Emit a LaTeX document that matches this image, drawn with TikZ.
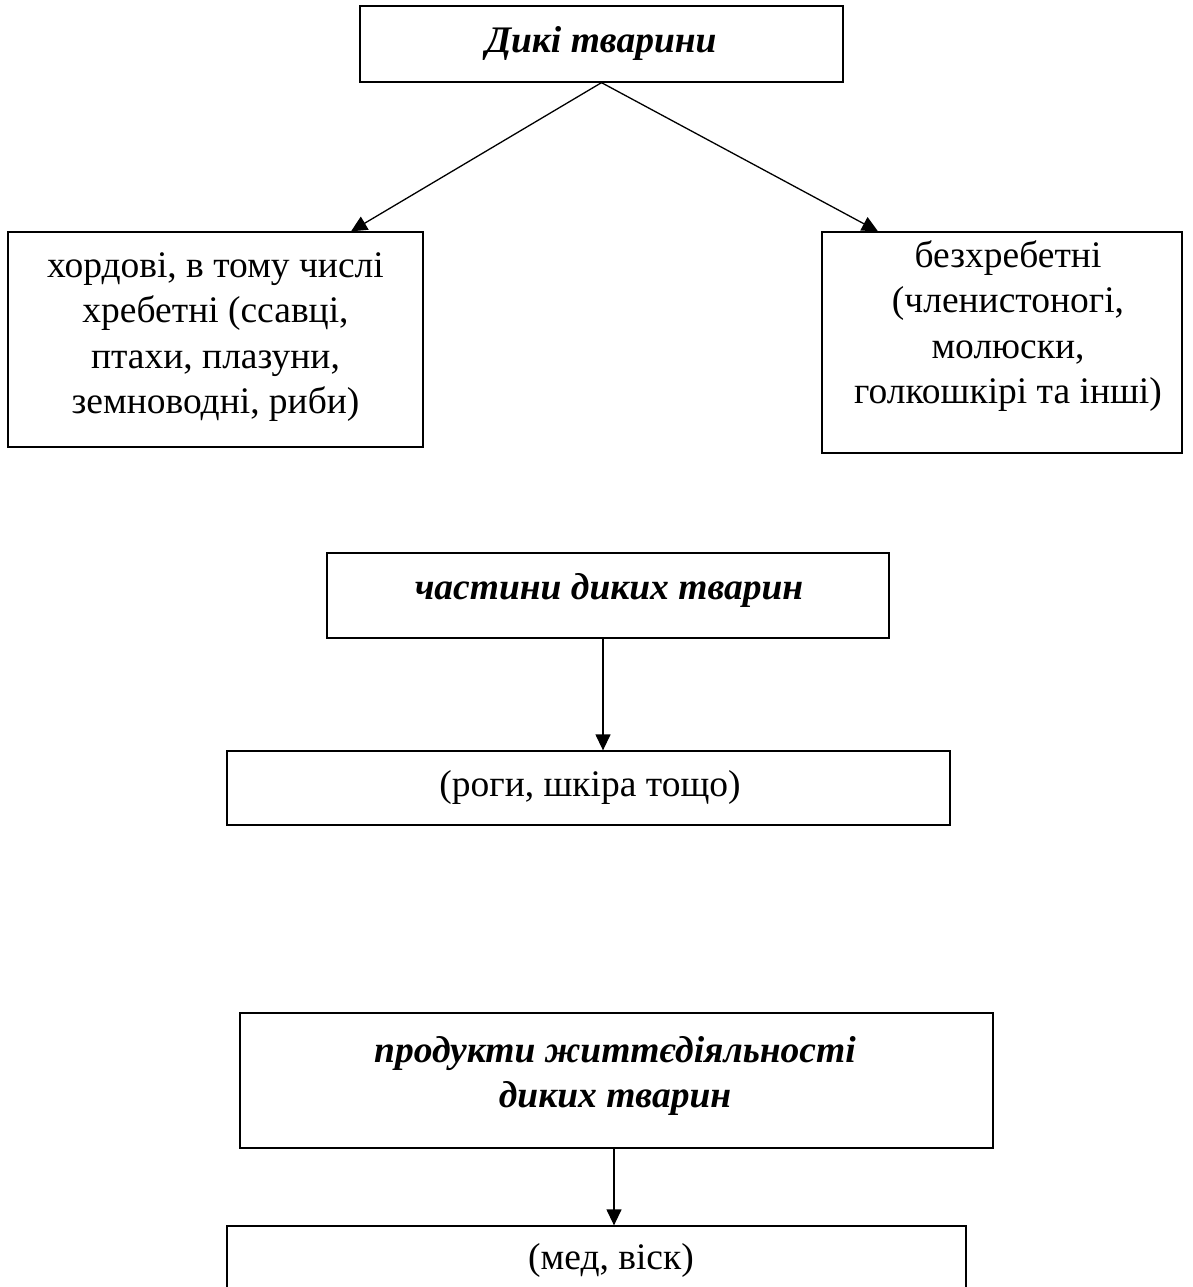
\documentclass[tikz,border=0pt]{standalone}
\usepackage{fontspec}
\setmainfont{Liberation Serif}
\usetikzlibrary{arrows.meta}
\begin{document}
\begin{tikzpicture}[x=1pt,y=-1pt,
  box/.style={draw,line width=1.3pt,inner sep=0pt,rectangle},
  txt/.style={inner sep=0pt,align=center,font=\fontsize{37.5}{45.6}\selectfont},
  ttl/.style={txt,font=\fontsize{37.5}{45.6}\selectfont\bfseries\itshape},
  arr/.style={line width=1.3pt,-{Triangle[length=16pt,width=15pt]}}]
\clip (0,0) rectangle (1192,1287);
\fill[white] (0,0) rectangle (1192,1287);
% boxes
\node[box,minimum width=483pt,minimum height=76pt] (b1) at (601.5,44) {};
\node[box,minimum width=415pt,minimum height=215pt] (b2) at (215.5,339.5) {};
\node[box,minimum width=360pt,minimum height=221pt] (b3) at (1002,342.5) {};
\node[box,minimum width=562pt,minimum height=85pt] (b4) at (608,595.5) {};
\node[box,minimum width=723pt,minimum height=74pt] (b5) at (588.5,788) {};
\node[box,minimum width=753pt,minimum height=135pt] (b6) at (616.5,1080.5) {};
\node[box,minimum width=739pt,minimum height=80pt] (b7) at (596.5,1266) {};
% texts
\node[ttl] (t1) at (601,43) {Дикі тварини};
\node[txt] (t2) at (215.5,337) {хордові, в тому числі\\хребетні (ссавці,\\птахи, плазуни,\\земноводні, риби)};
\node[txt] (t3) at (1008,326) {безхребетні\\(членистоногі,\\молюски,\\голкошкірі та інші)};
\node[ttl] (t4) at (609,590) {частини диких тварин};
\node[txt] (t5) at (590,787) {(роги, шкіра тощо)};
\node[ttl] (t6) at (615,1076) {продукти життєдіяльності\\диких тварин};
\node[txt] (t7) at (611,1260) {(мед, віск)};
% connectors
\coordinate (a2) at (351,0);
\coordinate (a3) at (878,0);
\coordinate (a4) at (603,0);
\coordinate (a6) at (614,0);
\draw[arr] (b1.south) -- (b2.north -| a2);
\draw[arr] (b1.south) -- (b3.north -| a3);
\draw[arr] (b4.south -| a4) -- (b5.north -| a4);
\draw[arr] (b6.south -| a6) -- (b7.north -| a6);
\end{tikzpicture}
\end{document}
